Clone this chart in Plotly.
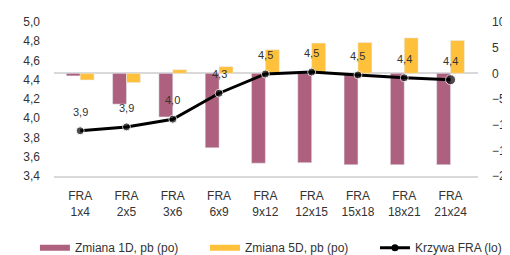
import plotly.graph_objects as go

categories = ["FRA<br>1x4", "FRA<br>2x5", "FRA<br>3x6", "FRA<br>6x9", "FRA<br>9x12",
              "FRA<br>12x15", "FRA<br>15x18", "FRA<br>18x21", "FRA<br>21x24"]
change_1d = [-0.5, -6.0, -8.5, -14.5, -17.5, -17.4, -17.8, -17.8, -17.8]
change_5d = [-1.3, -1.8, 0.7, 1.3, 4.6, 5.9, 6.0, 6.9, 6.4]
fra_curve = [3.87, 3.91, 3.99, 4.26, 4.46, 4.48, 4.45, 4.42, 4.40]

MAUVE = "#AD617E"
YELLOW = "#FFC13B"
FONT = "Liberation Sans, Arial, sans-serif"

fig = go.Figure()
fig.add_trace(go.Bar(x=categories, y=change_1d, marker_color=MAUVE, showlegend=False,
                     yaxis="y", name="Zmiana 1D, pb (po)"))
fig.add_trace(go.Bar(x=categories, y=change_5d, marker_color=YELLOW, showlegend=False,
                     yaxis="y", name="Zmiana 5D, pb (po)"))
fig.add_trace(go.Scatter(x=categories, y=fra_curve, mode="lines+markers", yaxis="y2",
                         line=dict(color="black", width=3),
                         marker=dict(color="black", size=[8]*8 + [10]),
                         showlegend=False, name="Krzywa FRA (lo)"))

# legend entries (one legend per entry for exact placement)
fig.add_trace(go.Scatter(x=[None], y=[None], mode="lines", line=dict(color=MAUVE, width=6),
                         name="Zmiana 1D, pb (po)", legend="legend"))
fig.add_trace(go.Scatter(x=[None], y=[None], mode="lines", line=dict(color=YELLOW, width=6),
                         name="Zmiana 5D, pb (po)", legend="legend2"))
fig.add_trace(go.Scatter(x=[None], y=[None], mode="lines+markers",
                         line=dict(color="black", width=3), marker=dict(color="black", size=7),
                         name="Krzywa FRA (lo)", legend="legend3"))

for c, v in zip(categories, fra_curve):
    fig.add_annotation(x=c, y=v, yref="y2", text=f"{v:.1f}".replace(".", ","),
                       showarrow=False, yshift=19, font=dict(size=11, color="#333", family=FONT))

leg = dict(orientation="h", y=-0.372, yanchor="top",
           font=dict(size=12, color="#333", family=FONT),
           itemwidth=30, bgcolor="rgba(0,0,0,0)", xanchor="left")

# the page body has an 8px margin, so the figure is 8px smaller on each axis
fig.update_layout(
    width=502, height=247,
    margin=dict(l=46, r=32, t=14, b=79, autoexpand=False),
    paper_bgcolor="white", plot_bgcolor="white",
    separators=", ",
    font=dict(family=FONT, size=12, color="#333"),
    barmode="group", bargap=0.4, bargroupgap=0,
    xaxis=dict(showline=True, linecolor="#D9D9D9", linewidth=1.5, ticks="",
               showgrid=False, ticklabelstandoff=8, tickfont=dict(size=12, color="#333")),
    yaxis=dict(side="right", range=[-20, 10], dtick=5, showgrid=False,
               zeroline=True, zerolinecolor="#D9D9D9", zerolinewidth=1.5,
               ticks="", ticklabelstandoff=13, tickfont=dict(size=12, color="#333")),
    yaxis2=dict(side="left", overlaying="y", range=[3.4, 5.0], dtick=0.2, tickformat=".1f",
                showgrid=False, zeroline=False, ticks="", ticklabelstandoff=13,
                tickfont=dict(size=12, color="#333")),
    legend=dict(leg, x=-0.045),
    legend2=dict(leg, x=0.356),
    legend3=dict(leg, x=0.757),
)

fig.write_html("out.html")
